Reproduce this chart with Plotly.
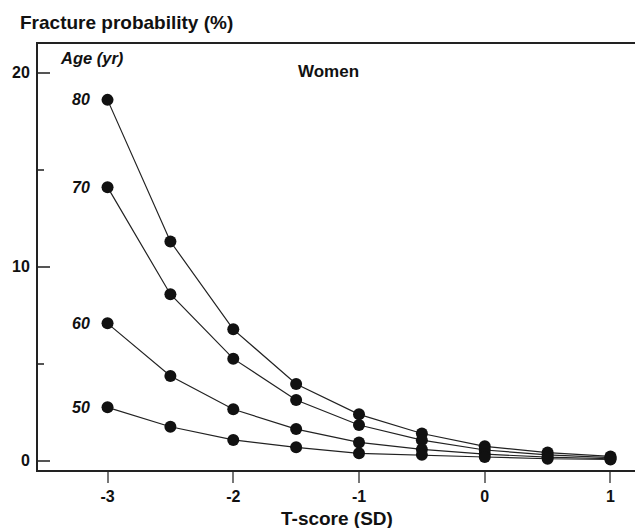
import plotly.graph_objects as go

# T-score (SD) on the x axis
t_scores = [-3, -2.5, -2, -1.5, -1, -0.5, 0, 0.5, 1]

# Fracture probability (%) by age group
age_groups = ["80", "70", "60", "50"]
prob_80 = [18.6, 11.3, 6.77, 3.95, 2.39, 1.40, 0.74, 0.42, 0.22]
prob_70 = [14.1, 8.58, 5.26, 3.13, 1.84, 1.06, 0.55, 0.30, 0.16]
prob_60 = [7.08, 4.37, 2.65, 1.63, 0.94, 0.58, 0.34, 0.18, 0.10]
prob_50 = [2.75, 1.75, 1.07, 0.69, 0.38, 0.30, 0.19, 0.10, 0.06]
series = [prob_80, prob_70, prob_60, prob_50]

y_ticks = [0, 10, 20]
x_ticks = [-3, -2, -1, 0, 1]

FONT = "Liberation Sans, Arial, sans-serif"

fig = go.Figure()
for name, vals in zip(age_groups, series):
    fig.add_trace(go.Scatter(
        x=t_scores, y=vals, mode="lines+markers", name=name,
        line=dict(color="#222222", width=1.2),
        marker=dict(color="#111111", size=12),
        showlegend=False, hoverinfo="skip",
    ))

# age labels beside the first point of each curve
for name, vals in zip(age_groups, series):
    fig.add_annotation(
        x=t_scores[0], y=vals[0], xref="x", yref="y",
        text="<b><i>%s</i></b>" % name, showarrow=False,
        xanchor="right", yanchor="middle", xshift=-16,
        font=dict(family=FONT, size=16, color="#111111"),
    )

fig.add_annotation(
    x=t_scores[0], y=y_ticks[-1], xref="x", yref="y",
    text="<b><i>Age (yr)</i></b>", showarrow=False,
    xanchor="center", yanchor="middle", xshift=-16, yshift=15,
    font=dict(family=FONT, size=16.5, color="#111111"),
)

fig.add_annotation(
    x=0.4866, y=0.935, xref="paper", yref="paper",
    text="<b>Women</b>", showarrow=False,
    xanchor="center", yanchor="middle",
    font=dict(family=FONT, size=17, color="#111111"),
)

fig.add_annotation(
    x=-0.033, y=1.05, xref="paper", yref="paper",
    text="<b>Fracture probability (%)</b>", showarrow=False,
    xanchor="left", yanchor="middle",
    font=dict(family=FONT, size=19, color="#111111"),
)

fig.add_annotation(
    x=0.5003, y=-0.1127, xref="paper", yref="paper",
    text="<b>T-score (SD)</b>", showarrow=False,
    xanchor="center", yanchor="middle",
    font=dict(family=FONT, size=19, color="#111111"),
)

fig.update_layout(
    width=635, height=528,
    margin=dict(l=38, r=0, t=44, b=58),
    paper_bgcolor="white", plot_bgcolor="white",
    xaxis=dict(
        range=[-3.553, 1.195], tickvals=x_ticks,
        ticktext=[str(v) for v in x_ticks],
        ticks="outside", ticklen=11, tickwidth=1.5, tickcolor="#777777",
        showline=True, linecolor="#222222", linewidth=2, mirror=True,
        showgrid=False, zeroline=False,
        tickfont=dict(family=FONT, size=16, color="#111111", weight="bold"),
    ),
    yaxis=dict(
        range=[-0.48, 21.48], tickvals=y_ticks,
        ticks="inside", ticklen=12, tickwidth=1.5, tickcolor="#555555",
        minor=dict(tickvals=[5, 15], ticks="inside", ticklen=6,
                   tickwidth=1.5, tickcolor="#555555"),
        showline=True, linecolor="#222222", linewidth=2,
        showgrid=False, zeroline=False, ticklabelstandoff=3,
        tickfont=dict(family=FONT, size=16, color="#111111", weight="bold"),
    ),
)

fig.write_html("out.html")
